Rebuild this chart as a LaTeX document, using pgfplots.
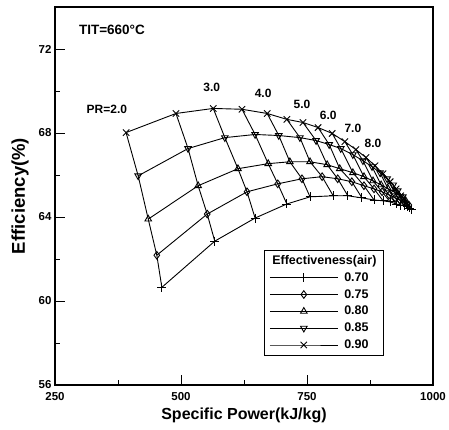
\documentclass[border=0pt]{standalone}
\usepackage{fontspec}
\setmainfont{Liberation Sans}
\usepackage{pgfplots}
\usepackage{pgfplotstable}
\pgfplotsset{compat=1.18}

\pgfplotstableread{
pr   x90 y90   x85 y85   x80 y80   x75 y75   x70 y70
2.0  391 68.02 415 65.96 435 63.90 452 62.18 462 60.65
2.5  490 68.93 514 67.26 534 65.49 552 64.14 567 62.85
3.0  564 69.17 587 67.78 613 66.30 631 65.20 647 63.95
3.5  621 69.13 647 67.93 673 66.54 692 65.58 710 64.62
4.0  671 68.93 694 67.88 716 66.63 740 65.82 756 64.96
4.5  710 68.65 736 67.78 756 66.63 780 65.92 802 65.01
5.0  742 68.50 768 67.64 790 66.49 811 65.82 831 65.01
5.5  772 68.26 794 67.45 815 66.30 839 65.68 859 64.91
6.0  800 67.98 817 67.26 841 66.11 863 65.49 883 64.81
6.5  825 67.59 841 66.97 863 65.92 883 65.34 901 64.77
7.0  847 67.21 861 66.68 881 65.72 899 65.20 915 64.72
7.5  867 66.83 879 66.40 897 65.53 913 65.05 927 64.62
8.0  885 66.44 895 66.11 911 65.34 925 64.91 936 64.57
8.5  901 66.06 909 65.82 923 65.20 934 64.81 944 64.53
9.0  915 65.68 921 65.53 932 65.05 942 64.72 950 64.48
9.5  927 65.34 930 65.25 940 64.91 948 64.62 954 64.43
10.0 936 65.01 940 64.96 946 64.77 952 64.57 958 64.38
}\data

\begin{document}
\begin{tikzpicture}
\begin{axis}[
  name=ax,
  width=378pt, height=378pt, scale only axis,
  xmin=250, xmax=1000, ymin=56, ymax=74,
  xtick={250,500,750,1000}, ytick={56,60,64,68,72},
  minor x tick num=1, minor y tick num=1,
  tick align=inside, xtick pos=bottom, ytick pos=left,
  major tick length=10pt, minor tick length=5pt,
  axis line style={line width=1.2pt},
  every tick/.style={black, line width=0.9pt},
  /pgf/number format/assume math mode=true,
  /pgf/number format/1000 sep={},
  tick label style={font=\bfseries\fontsize{11.5}{13}\selectfont},
  xticklabel style={yshift=-4pt},
  xlabel={Specific Power(kJ/kg)},
  ylabel={Efficiency(\%)},
  xlabel style={font=\bfseries\fontsize{16}{18}\selectfont, yshift=0pt},
  ylabel style={font=\bfseries\fontsize{18.5}{20}\selectfont},
  ylabel shift=3pt,
  legend style={at={(0.553,0.357)}, anchor=north west, draw=black, line width=0.7pt,
    font=\bfseries\fontsize{12.5}{14}\selectfont, row sep=2.6pt, column sep=4pt,
    inner xsep=5pt, inner ysep=3pt},
  legend cell align=left,
  legend image code/.code={\draw[mark repeat=2,mark phase=2] plot coordinates {(0pt,0pt) (34pt,0pt) (68pt,0pt)};},
]
\addlegendimage{empty legend}
\addlegendentry{\hspace{-72pt}Effectiveness(air)\hspace{3pt}}

\addplot[black, line width=0.9pt, mark=+, mark size=4.5pt] table[x=x70,y=y70]{\data};
\addlegendentry{0.70}
\addplot[black, line width=0.9pt, mark=diamond, mark size=3.8pt] table[x=x75,y=y75]{\data};
\addlegendentry{0.75}
\addplot[black, line width=0.9pt, mark=triangle, mark size=3.8pt] table[x=x80,y=y80]{\data};
\addlegendentry{0.80}
\addplot[black, line width=0.9pt, mark=triangle, mark size=3.8pt, mark options={rotate=180}] table[x=x85,y=y85]{\data};
\addlegendentry{0.85}
\addplot[black, line width=0.9pt, mark=x, mark size=4.5pt] table[x=x90,y=y90]{\data};
\addlegendentry{0.90}

\pgfplotsinvokeforeach{0,...,16}{
  \pgfplotstablegetelem{#1}{x90}\of\data \let\xa\pgfplotsretval
  \pgfplotstablegetelem{#1}{y90}\of\data \let\ya\pgfplotsretval
  \pgfplotstablegetelem{#1}{x85}\of\data \let\xb\pgfplotsretval
  \pgfplotstablegetelem{#1}{y85}\of\data \let\yb\pgfplotsretval
  \pgfplotstablegetelem{#1}{x80}\of\data \let\xc\pgfplotsretval
  \pgfplotstablegetelem{#1}{y80}\of\data \let\yc\pgfplotsretval
  \pgfplotstablegetelem{#1}{x75}\of\data \let\xd\pgfplotsretval
  \pgfplotstablegetelem{#1}{y75}\of\data \let\yd\pgfplotsretval
  \pgfplotstablegetelem{#1}{x70}\of\data \let\xe\pgfplotsretval
  \pgfplotstablegetelem{#1}{y70}\of\data \let\ye\pgfplotsretval
  \edef\tmp{\noexpand\addplot[black, line width=0.9pt, no marks, forget plot] coordinates {(\xa,\ya) (\xb,\yb) (\xc,\yc) (\xd,\yd) (\xe,\ye)};}
  \tmp
}

\begin{scope}[every node/.style={font=\bfseries\fontsize{12}{14}\selectfont}]
\node[font=\bfseries\fontsize{13.5}{15}\selectfont] at (axis cs:363,72.9) {TIT=660°C};
\node at (axis cs:353,69.13) {PR=2.0};
\node at (axis cs:561,70.18) {3.0};
\node at (axis cs:663,69.89) {4.0};
\node at (axis cs:740,69.37) {5.0};
\node at (axis cs:792,68.84) {6.0};
\node at (axis cs:841,68.22) {7.0};
\node at (axis cs:881,67.50) {8.0};
\end{scope}
\end{axis}
\pgfresetboundingbox
\path[use as bounding box] ([shift={(-55pt,-44pt)}]ax.south west) rectangle ([shift={(16pt,7pt)}]ax.north east);
\end{tikzpicture}
\end{document}
